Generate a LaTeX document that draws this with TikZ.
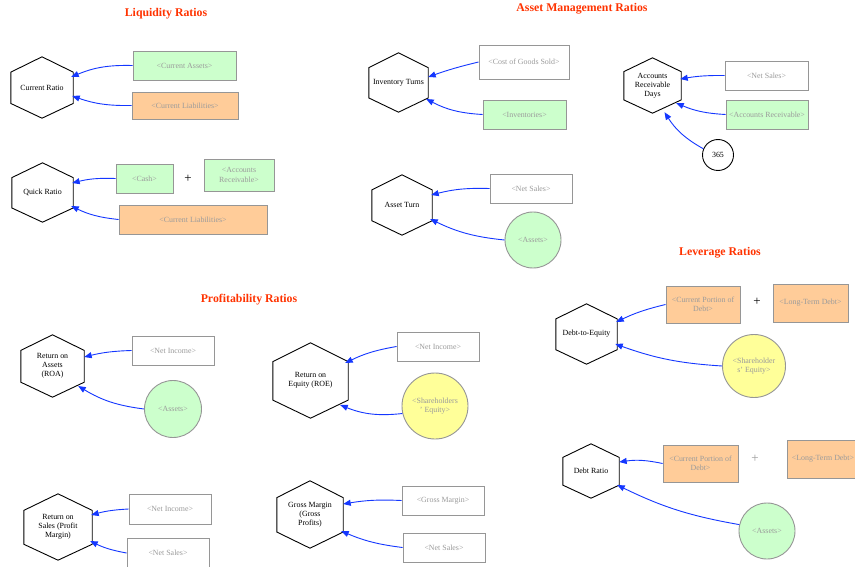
\documentclass[tikz,border=0pt]{standalone}
\usepackage{fontspec}
\setmainfont{Liberation Serif}
\usetikzlibrary{arrows.meta,calc}
\definecolor{titlered}{RGB}{255,51,0}
\definecolor{boxgreen}{RGB}{204,255,204}
\definecolor{boxorange}{RGB}{255,204,153}
\definecolor{boxyellow}{RGB}{255,255,153}
\definecolor{arrowblue}{RGB}{20,55,255}
\definecolor{vargray}{RGB}{155,155,155}
\definecolor{bordergray}{RGB}{150,150,150}
\tikzset{
  title/.style={font=\fontsize{11.8}{13}\selectfont\bfseries, text=titlered},
  hexn/.style={inner sep=0pt, align=center, font=\fontsize{7.9}{9}\selectfont},
  hexline/.style={draw=black, line width=0.9pt, line join=miter},
  varbox/.style={draw=bordergray, line width=0.9pt, inner sep=0pt, align=center,
     text=vargray, font=\fontsize{7.9}{9.5}\selectfont},
  varcirc/.style={circle, draw=bordergray, line width=0.9pt, inner sep=0pt, align=center,
     text=vargray, font=\fontsize{7.9}{9.5}\selectfont},
  green/.style={fill=boxgreen},
  orange/.style={fill=boxorange},
  yellow/.style={fill=boxyellow},
  white/.style={fill=white},
  plussign/.style={font=\fontsize{13}{13}\selectfont},
  conn/.style={draw=arrowblue, line width=0.9pt, -{Triangle[length=7.5pt,width=6pt]}},
}
\newcommand\hexdraw[1]{\draw[hexline] (#1.north) -- ($(#1.north east)!.25!(#1.south east)$) -- ($(#1.north east)!.76!(#1.south east)$) -- (#1.south) -- ($(#1.north west)!.76!(#1.south west)$) -- ($(#1.north west)!.25!(#1.south west)$) -- cycle;}
\begin{document}
\begin{tikzpicture}[x=1pt,y=1pt]
\useasboundingbox[fill=white] (0,0) rectangle (855,-567);
\clip (0,0) rectangle (855,-567);

% ---------- titles
\node[title] (t1) at (166,-14) {Liquidity Ratios};
\node[title] (t2) at (582,-9) {Asset Management Ratios};
\node[title] (t3) at (249,-300) {Profitability Ratios};
\node[title] (t4) at (720,-253) {Leverage Ratios};

% ---------- Liquidity
\node[hexn, minimum width=62, minimum height=61] (cr) at (42,-87.5) {Current Ratio};
\hexdraw{cr}
\node[varbox, green, minimum width=103, minimum height=29] (ca) at (184.5,-65.5) {<Current Assets>};
\node[varbox, orange, minimum width=106, minimum height=27] (cl1) at (185,-105.5) {<Current Liabilities>};
\draw[conn] (ca.west) to[bend right=12] ([shift={(-2,10.5)}]cr.east);
\draw[conn] (cl1.west) to[bend left=10] ([shift={(-1,-8.5)}]cr.east);

\node[hexn, minimum width=61, minimum height=59] (qr) at (42.5,-192.5) {Quick Ratio};
\hexdraw{qr}
\node[varbox, green, minimum width=57, minimum height=29] (cash) at (144.5,-178.5) {<Cash>};
\node[plussign] (p1) at (188,-179) {+};
\node[varbox, green, minimum width=70, minimum height=32] (ar1) at (239,-175) {<Accounts\\Receivable>};
\node[varbox, orange, minimum width=148, minimum height=29] (cl2) at (193,-219.5) {<Current Liabilities>};
\draw[conn] (cash.west) to[bend right=8] ([shift={(-1,9.5)}]qr.east);
\draw[conn] (cl2.west) to[bend left=10] ([shift={(-2,-13.5)}]qr.east);

% ---------- Asset management
\node[hexn, minimum width=59, minimum height=59] (it) at (398.5,-82.5) {Inventory Turns};
\hexdraw{it}
\node[varbox, white, minimum width=90, minimum height=34] (cogs) at (524,-62) {<Cost of Goods Sold>};
\node[varbox, green, minimum width=83, minimum height=29] (inv) at (524.5,-114.5) {<Inventories>};
\draw[conn] (cogs.west) to[bend right=3] ([shift={(0,5.5)}]it.east);
\draw[conn] (inv.west) to[bend left=12] ([shift={(-2,-16.5)}]it.east);

\node[hexn, minimum width=60, minimum height=60] (at) at (402,-205) {Asset Turn};
\hexdraw{at}
\node[varbox, white, minimum width=82, minimum height=29] (ns1) at (531,-188.5) {<Net Sales>};
\node[varcirc, green, minimum size=56] (as1) at (533,-240) {<Assets>};
\draw[conn] (ns1.west) to[bend right=8] ([shift={(-1,10)}]at.east);
\draw[conn] (as1.west) to[bend left=10] ([shift={(-2,-14)}]at.east);

\node[hexn, minimum width=57, minimum height=55] (ard) at (652.5,-85.5) {Accounts\\Receivable\\Days};
\hexdraw{ard}
\node[varbox, white, minimum width=83, minimum height=29] (ns2) at (766.5,-75.5) {<Net Sales>};
\node[varbox, green, minimum width=82, minimum height=29] (ar2) at (767,-114.5) {<Accounts Receivable>};
\node[circle, draw=black, line width=0.9pt, minimum size=31, inner sep=0pt, font=\fontsize{7.9}{9}\selectfont] (c365) at (718,-155) {365};
\draw[conn] (ns2.west) to[bend right=5] ([shift={(-1,6.5)}]ard.east);
\draw[conn] (ar2.west) to[bend left=10] ([shift={(-5,-17.5)}]ard.east);
\draw[conn] (c365.157) to[bend left=14] ([shift={(12,1)}]ard.south);

% ---------- Profitability
\node[hexn, minimum width=63, minimum height=62] (roa) at (52.5,-366) {Return on\\Assets\\(ROA)};
\hexdraw{roa}
\node[varbox, white, minimum width=82, minimum height=29] (ni1) at (173,-350.5) {<Net Income>};
\node[varcirc, green, minimum size=57] (as2) at (173,-409) {<Assets>};
\draw[conn] (ni1.west) to[bend right=6] ([shift={(0,9)}]roa.east);
\draw[conn] (as2.west) to[bend left=12] ([shift={(-6,-20)}]roa.east);

\node[hexn, minimum width=75, minimum height=75] (roe) at (310.5,-380.5) {Return on\\Equity (ROE)};
\hexdraw{roe}
\node[varbox, white, minimum width=82, minimum height=29] (ni2) at (438,-346.5) {<Net Income>};
\node[varcirc, yellow, minimum size=66] (se1) at (435,-406) {<Shareholders\\' Equity>};
\draw[conn] (ni2.west) to[bend right=8] ([shift={(-3,17.5)}]roe.east);
\draw[conn] (se1.193) to[bend left=14] ([shift={(-8,-24.5)}]roe.east);

\node[hexn, minimum width=68, minimum height=66] (ros) at (58,-527) {Return on\\Sales (Profit\\Margin)};
\hexdraw{ros}
\node[varbox, white, minimum width=82, minimum height=30] (ni3) at (170,-509) {<Net Income>};
\node[varbox, white, minimum width=82, minimum height=29] (ns3) at (168,-553) {<Net Sales>};
\draw[conn] (ni3.west) to[bend right=6] ([shift={(-1,12)}]ros.east);
\draw[conn] (ns3.west) to[bend left=8] ([shift={(-2,-14)}]ros.east);

\node[hexn, minimum width=66, minimum height=67] (gm) at (310,-514.5) {Gross Margin\\(Gross\\Profits)};
\hexdraw{gm}
\node[varbox, white, minimum width=82, minimum height=29] (gmb) at (443,-500.5) {<Gross Margin>};
\node[varbox, white, minimum width=82, minimum height=29] (ns4) at (444,-547.5) {<Net Sales>};
\draw[conn] (gmb.west) to[bend right=6] ([shift={(0,10.5)}]gm.east);
\draw[conn] (ns4.west) to[bend left=8] ([shift={(-2,-16.5)}]gm.east);

% ---------- Leverage
\node[hexn, minimum width=61, minimum height=60] (de) at (586.5,-334) {Debt-to-Equity};
\hexdraw{de}
\node[varbox, orange, minimum width=74, minimum height=37] (cpd1) at (703,-304.5) {<Current Portion of\\Debt>};
\node[plussign] (p2) at (757,-302) {+};
\node[varbox, orange, minimum width=75, minimum height=38] (ltd1) at (810.5,-303) {<Long-Term Debt>};
\node[varcirc, yellow, minimum size=63] (se2) at (754,-366) {<Shareholder\\s' Equity>};
\draw[conn] (cpd1.west) to[bend right=6] ([shift={(-1,12)}]de.east);
\draw[conn] (se2.west) to[bend left=8] ([shift={(-2,-10)}]de.east);

\node[hexn, minimum width=56, minimum height=54] (dr) at (591,-471) {Debt Ratio};
\hexdraw{dr}
\node[varbox, orange, minimum width=75, minimum height=37] (cpd2) at (700.5,-463.5) {<Current Portion of\\Debt>};
\node[plussign, text=vargray] (p3) at (755,-459) {+};
\node[varbox, orange, minimum width=72, minimum height=38] (ltd2) at (823,-459) {<Long-Term Debt>};
\node[varcirc, green, minimum size=56] (as3) at (767,-531) {<Assets>};
\draw[conn] (cpd2.west) to[bend right=10] ([shift={(0,9)}]dr.east);
\draw[conn] (as3.167) to[bend left=8] ([shift={(-2,-14)}]dr.east);
\end{tikzpicture}
\end{document}
